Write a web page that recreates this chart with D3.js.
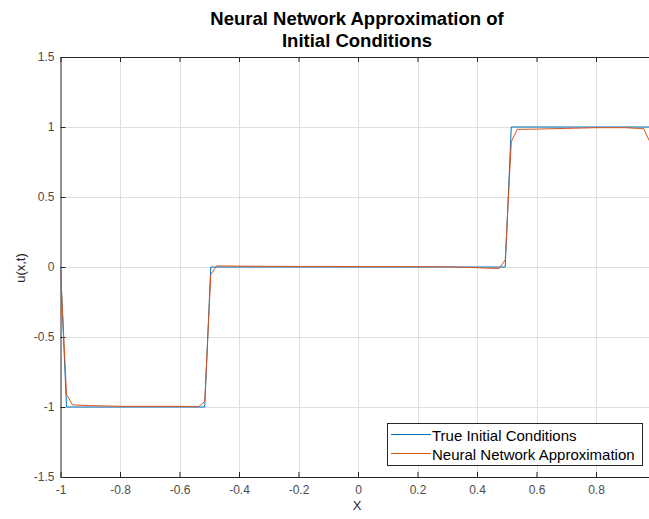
<script src="https://d3js.org/d3.v7.min.js"></script>
<html>
<body style="margin:0;background:#fff">
<div id="chart"></div>
<script>
    const W = 649, H = 519;

    const trueX = [-1, -0.9798, -0.5152, -0.4949, 0.4949, 0.5152, 0.9798, 1];
    const trueU = [0, -1, -1, 0, 0, 1, 1, 1];

    const nnX = [-1, -0.9798, -0.9596, -0.9, -0.8, -0.7, -0.6, -0.5354, -0.5152, -0.4949, -0.4747,
                 -0.4, -0.3, -0.2, -0.1, 0, 0.1, 0.2, 0.3, 0.4, 0.4545, 0.4747, 0.4949, 0.5152, 0.5354,
                 0.6, 0.7, 0.8, 0.9, 0.9394, 0.9596, 0.9798, 1];
    const nnU = [-0.02, -0.91, -0.985, -0.99, -0.995, -0.995, -0.995, -0.997, -0.96, -0.055, 0.008,
                 0.006, 0.005, 0.004, 0.004, 0.003, 0.003, 0.002, 0.001, -0.005, -0.01, -0.01, 0.05, 0.895, 0.983,
                 0.985, 0.99, 0.995, 0.995, 0.99, 0.99, 0.9, 0.6];

    const xTicks = [-1, -0.8, -0.6, -0.4, -0.2, 0, 0.2, 0.4, 0.6, 0.8, 1];
    const yTicks = [-1.5, -1, -0.5, 0, 0.5, 1, 1.5];
    const seriesNames = ["True Initial Conditions", "Neural Network Approximation"];
    const colors = ["#0072BD", "#D95319"];

    const pLeft = 60.5, pTop = 57, pBottom = 477, pRight = 655.5;
    const x = d3.scaleLinear().domain([-1, 1]).range([pLeft, pRight]);
    const y = d3.scaleLinear().domain([-1.5, 1.5]).range([pBottom, pTop]);
    const fmt = d => String(d);

    const svg = d3.select("#chart").append("svg")
        .attr("width", W).attr("height", H)
        .style("font-family", "'Liberation Sans', Arial, sans-serif");

    // grid
    const grid = svg.append("g").attr("stroke", "#dfdfdf").attr("stroke-width", 1);
    grid.selectAll(".gx").data(xTicks.slice(1, -1)).enter().append("line")
        .attr("x1", d => Math.round(x(d)) + 0.5).attr("x2", d => Math.round(x(d)) + 0.5)
        .attr("y1", pTop).attr("y2", pBottom);
    grid.selectAll(".gy").data(yTicks.slice(1, -1)).enter().append("line")
        .attr("y1", d => Math.round(y(d)) + 0.5).attr("y2", d => Math.round(y(d)) + 0.5)
        .attr("x1", pLeft).attr("x2", pRight);

    // axes (ticks inward, MATLAB style); the x=1 end lies just past the window
    const axX = svg.append("g").attr("transform", `translate(0,${pBottom})`)
        .call(d3.axisBottom(x).tickValues(xTicks).tickSizeInner(-5).tickSizeOuter(0).tickPadding(8)
            .tickFormat(d => d === 1 ? "" : fmt(d)));
    const axXtop = svg.append("g").attr("transform", `translate(0,${pTop})`)
        .call(d3.axisTop(x).tickValues(xTicks).tickSizeInner(-5).tickSizeOuter(0).tickFormat(""));
    const axY = svg.append("g").attr("transform", `translate(${pLeft},0)`)
        .call(d3.axisLeft(y).tickValues(yTicks).tickSizeInner(-5).tickSizeOuter(0).tickPadding(6)
            .tickFormat(fmt));
    const axYr = svg.append("g").attr("transform", `translate(${pRight},0)`)
        .call(d3.axisRight(y).tickValues(yTicks).tickSizeInner(-5).tickSizeOuter(0).tickFormat(""));
    [axX, axXtop, axY, axYr].forEach(a => {
        a.selectAll("path,line").attr("stroke", "#262626");
        a.selectAll("text").attr("fill", "#4d4d4d").style("font-size", "12px")
            .style("font-family", "'Liberation Sans', Arial, sans-serif");
    });

    // lines
    svg.append("clipPath").attr("id", "clip").append("rect")
        .attr("x", pLeft).attr("y", pTop).attr("width", pRight - pLeft).attr("height", pBottom - pTop);
    const line = d3.line().x(d => x(d[0])).y(d => y(d[1]));
    const plot = svg.append("g").attr("clip-path", "url(#clip)");
    plot.append("path").datum(trueX.map((v, i) => [v, trueU[i]]))
        .attr("d", line).attr("fill", "none").attr("stroke", colors[0]).attr("stroke-width", 1);
    plot.append("path").datum(nnX.map((v, i) => [v, nnU[i]]))
        .attr("d", line).attr("fill", "none").attr("stroke", colors[1]).attr("stroke-width", 1);

    // labels
    svg.append("text").attr("x", 357).attr("y", 25).attr("text-anchor", "middle")
        .style("font-size", "18.5px").style("font-weight", "bold").attr("fill", "#000")
        .text("Neural Network Approximation of");
    svg.append("text").attr("x", 357).attr("y", 46.5).attr("text-anchor", "middle")
        .style("font-size", "18.5px").style("font-weight", "bold").attr("fill", "#000")
        .text("Initial Conditions");
    svg.append("text").attr("x", 357).attr("y", 510).attr("text-anchor", "middle")
        .style("font-size", "13px").attr("fill", "#262626").text("X");
    svg.append("text").attr("transform", "translate(25,268) rotate(-90)").attr("text-anchor", "middle")
        .style("font-size", "13px").attr("fill", "#262626").text("u(x,t)");

    // legend
    const lg = svg.append("g");
    lg.append("rect").attr("x", 387.5).attr("y", 423.5).attr("width", 255).attr("height", 42)
        .attr("fill", "#fff").attr("stroke", "#262626").attr("stroke-width", 1);
    seriesNames.forEach((n, i) => {
        const yy = 434.5 + i * 19;
        lg.append("line").attr("x1", 391).attr("x2", 431).attr("y1", yy).attr("y2", yy)
            .attr("stroke", colors[i]).attr("stroke-width", 1);
        lg.append("text").attr("x", 432).attr("y", yy + 6).style("font-size", "15px")
            .attr("fill", "#000").text(n);
    });
</script>
</body>
</html>
